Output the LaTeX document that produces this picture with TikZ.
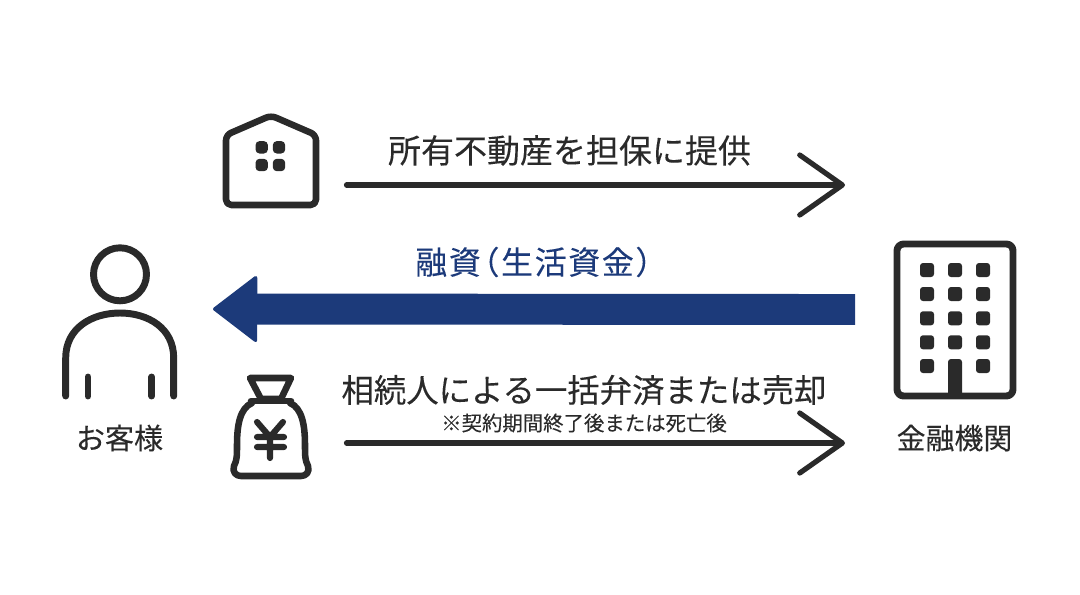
\documentclass[tikz,border=0pt]{standalone}
\usepackage{fontspec}
\setmainfont[FakeBold=0.15]{Noto Sans CJK JP}
\usetikzlibrary{arrows.meta}
\definecolor{ink}{HTML}{2A2A2A}
\definecolor{navy}{HTML}{1C3A7A}
\tikzset{
  icon/.style={draw=ink,line width=5.2pt,line cap=round,line join=round,fill=none},
  thinicon/.style={draw=ink,line width=4.9pt,line cap=round,line join=round,fill=none},
  dot/.style={fill=ink,rounded corners=2.2pt},
  rdot/.style={fill=ink,rounded corners=3pt},
  flow/.style={draw=ink,line width=3.9pt,line cap=round,-{Straight Barb[length=32pt,width=45pt,line width=3.9pt,round]}},
  lab/.style={text=ink,inner sep=0pt,anchor=center},
}
\newcommand{\dotat}[3]{\fill[dot] (#1-#3,#2-#3) rectangle (#1+#3,#2+#3);}
\newcommand{\rdotat}[3]{\fill[rdot] (#1-#3,#2-#3) rectangle (#1+#3,#2+#3);}
\begin{document}
\begin{tikzpicture}[x=0.75pt,y=-0.75pt]
\useasboundingbox (0,0) rectangle (1080,594);
% person
\draw[icon] (120,274.3) circle (26.5);
\draw[icon] (65.7,396) -- (65.7,358) .. controls (65.7,328) and (92,313) .. (120,313) .. controls (148,313) and (173.7,328) .. (173.7,358) -- (173.7,396);
\draw[icon] (88,377) -- (88,396);
\draw[icon] (151.7,377) -- (151.7,396);
\node[lab,font=\fontsize{21.8pt}{24pt}\selectfont] (customer) at (119.5,438) {お客様};
% house
\draw[thinicon,rounded corners=4pt] (226,205) -- (226,135) -- (271,115.5) -- (316,135) -- (316,205) -- cycle;
\rdotat{261.7}{147.3}{6.2}
\rdotat{279}{147.3}{6.2}
\rdotat{261.7}{165}{6.2}
\rdotat{279}{165}{6.2}
% top arrow
\coordinate (a1s) at (346.5,185);
\coordinate (a1e) at (845,185);
\draw[flow] (a1s) -- (a1e);
\node[lab,font=\fontsize{24.75pt}{28pt}\selectfont] (t1) at (569.5,150.5) {所有不動産を担保に提供};
% blue arrow
\coordinate (a2s) at (855,309.5);
\coordinate (a2e) at (213,309);
\draw[navy,line width=23.2pt,-{Triangle[length=34pt,width=51.5pt,line width=2.5pt,round]}] (a2s) -- (a2e);
\node[lab,anchor=west,text=navy,font=\fontsize{24pt}{28pt}\selectfont\addfontfeature{LetterSpace=5}] (t2) at (415,262) {融資\kern-.42em（生活資金）};
% bag
\draw[thinicon] (250,378) -- (291,378) -- (281,399) -- (261,399) -- cycle;
\draw[thinicon] (251,401) -- (291,401);
\draw[thinicon] (252,403) .. controls (240,408) and (237,425) .. (237,445) .. controls (237,456) and (237,460) .. (234,466) .. controls (232,472) and (236,476) .. (241,476) -- (301,476) .. controls (306,476) and (310,472) .. (308,466) .. controls (305,460) and (305,456) .. (305,445) .. controls (305,425) and (302,408) .. (290,403);
\draw[line width=4.6pt,draw=ink,line cap=round,line join=round] (257,422) -- (270,437) -- (283,422) (270,437) -- (270,458) (257,437) -- (284,437) (257,447) -- (284,447);
% bottom arrow
\coordinate (a3s) at (346.5,443);
\coordinate (a3e) at (845,443);
\draw[flow] (a3s) -- (a3e);
\node[lab,font=\fontsize{24.3pt}{26pt}\selectfont] (t3) at (584,390) {相続人による一括弁済または売却};
\node[lab,font=\fontsize{15.3pt}{17pt}\selectfont] (t4) at (584,423) {※契約期間終了後または死亡後};
% building
\draw[icon,rounded corners=5pt] (897,244) rectangle (1013,396);
\foreach \y in {270,294,318.3,342.3}{\foreach \x in {927,955,983}{\dotat{\x}{\y}{7}}}
\dotat{927}{366}{7}
\dotat{983}{366}{7}
\fill[ink,rounded corners=2.2pt] (948,396) -- (948,359) -- (962,359) -- (962,396) -- cycle;
\node[lab,font=\fontsize{21.7pt}{25pt}\selectfont] (bank) at (954.5,438) {金融機関};
\end{tikzpicture}
\end{document}
